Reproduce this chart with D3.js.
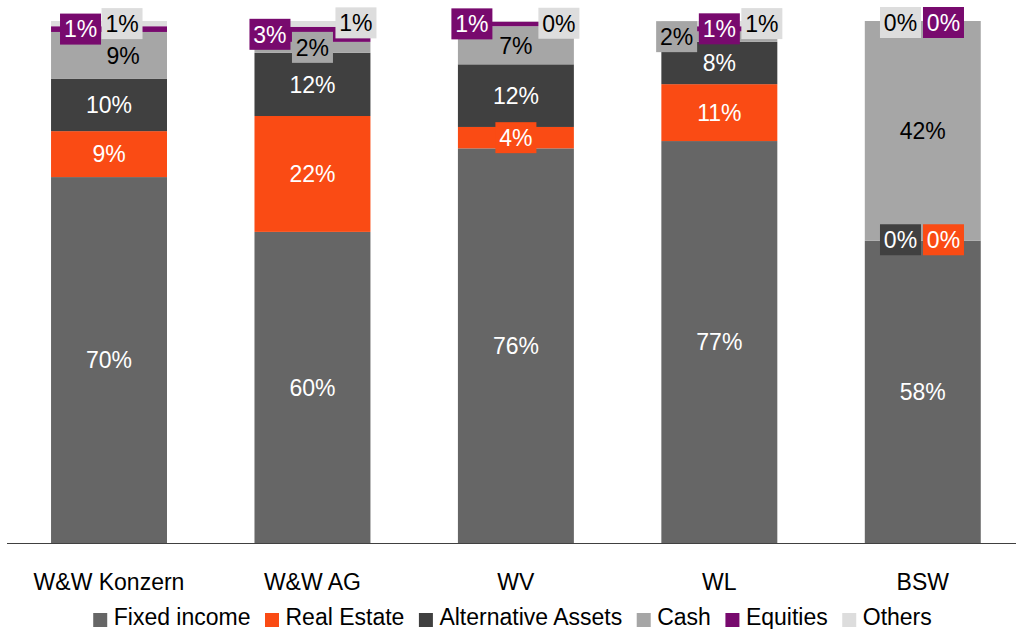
<!DOCTYPE html>
<meta charset="utf-8">
<html>
<script src="https://d3js.org/d3.v7.min.js"></script>
<body style="margin:0; background:#fff;">
<style>
    text {
        font-family: "Liberation Sans", Arial, sans-serif;
    }
</style>
<div id="mydataviz"></div>

<script>

    //data (share of portfolio in %)
    var categories = ["W&W Konzern", "W&W AG", "WV", "WL", "BSW"];
    var seriesNames = ["Fixed income", "Real Estate", "Alternative Assets", "Cash", "Equities", "Others"];
    var fixedIncome = [70.1, 59.6, 75.6, 77.0, 57.9];
    var realEstate = [8.8, 22.2, 4.1, 10.9, 0];
    var alternativeAssets = [10.0, 12.1, 12.0, 8.1, 0];
    var cash = [9.0, 2.1, 7.3, 2.0, 42.1];
    var equities = [1.1, 2.9, 0.9, 1.0, 0];
    var others = [1.0, 1.1, 0.1, 1.0, 0];

    var colors = ["#666666", "#fa4b14", "#404040", "#a6a6a6", "#780a6e", "#dddddd"];
    var textColors = ["#fff", "#fff", "#fff", "#000", "#fff", "#000"];

    //label moves for crowded small segments (dx, dy in px, boxed or not)
    var labelMoves = [
        {cat: "W&W Konzern", s: "Equities", dx: -28.5, dy: 0, box: true},
        {cat: "W&W Konzern", s: "Others", dx: 13, dy: 0, box: true},
        {cat: "W&W Konzern", s: "Cash", dx: 14, dy: 0, box: false},
        {cat: "W&W AG", s: "Equities", dx: -42.5, dy: 0, box: true},
        {cat: "W&W AG", s: "Others", dx: 43.5, dy: -1, box: true},
        {cat: "W&W AG", s: "Cash", dx: 0, dy: 0, box: true},
        {cat: "WV", s: "Equities", dx: -44, dy: 0, box: true},
        {cat: "WV", s: "Others", dx: 43, dy: 2, box: true},
        {cat: "WV", s: "Real Estate", dx: 0, dy: 0, box: true},
        {cat: "WL", s: "Cash", dx: -42.7, dy: 0, box: true},
        {cat: "WL", s: "Equities", dx: 0, dy: 0, box: true},
        {cat: "WL", s: "Others", dx: 42.5, dy: 0, box: true},
        {cat: "BSW", s: "Others", dx: -22.3, dy: 1.5, box: true},
        {cat: "BSW", s: "Equities", dx: 20.7, dy: 1.5, box: true},
        {cat: "BSW", s: "Alternative Assets", dx: -22.3, dy: -1, box: true},
        {cat: "BSW", s: "Real Estate", dx: 20.7, dy: -1, box: true}
    ];

    //build table for d3.stack
    var seriesValues = [fixedIncome, realEstate, alternativeAssets, cash, equities, others];
    var table = categories.map(function(c, i) {
        var row = {cat: c};
        seriesNames.forEach(function(s, j) { row[s] = seriesValues[j][i]; });
        return row;
    });

    var width = 1016, height = 629;
    var svg = d3.select("#mydataviz").append("svg")
        .attr("width", width)
        .attr("height", height);

    //scales
    var x = d3.scaleBand()
        .domain(categories)
        .range([7.3, 1024.5])
        .paddingInner(0.43)
        .paddingOuter(0.215);
    var y = d3.scaleLinear().domain([0, 100]).range([543, 21]);
    var color = d3.scaleOrdinal().domain(seriesNames).range(colors);
    var tColor = d3.scaleOrdinal().domain(seriesNames).range(textColors);

    var stacked = d3.stack().keys(seriesNames)(table);

    //bars
    svg.append("g").selectAll("g")
        .data(stacked)
        .enter().append("g")
        .attr("fill", function(d) { return color(d.key); })
        .selectAll("rect")
        .data(function(d) { return d; })
        .enter().append("rect")
        .attr("x", function(d) { return x(d.data.cat); })
        .attr("width", x.bandwidth())
        .attr("y", function(d) { return y(d[1]); })
        .attr("height", function(d) { return y(d[0]) - y(d[1]); });

    //baseline
    svg.append("line")
        .attr("x1", 7).attr("x2", 1016)
        .attr("y1", y(0) + 0.5).attr("y2", y(0) + 0.5)
        .attr("stroke", "#404040")
        .attr("stroke-width", 1);

    //category labels
    svg.append("g").selectAll("text")
        .data(categories)
        .enter().append("text")
        .attr("x", function(d) { return x(d) + x.bandwidth() / 2; })
        .attr("y", 590)
        .attr("text-anchor", "middle")
        .style("font-size", "23px")
        .attr("fill", "#000")
        .text(function(d) { return d; });

    //data labels
    var labels = [];
    stacked.forEach(function(layer) {
        layer.forEach(function(d) {
            var mv = labelMoves.find(function(m) { return m.cat == d.data.cat && m.s == layer.key; });
            labels.push({
                s: layer.key,
                value: d.data[layer.key],
                cx: x(d.data.cat) + x.bandwidth() / 2 + (mv ? mv.dx : 0),
                cy: (y(d[0]) + y(d[1])) / 2 + (mv ? mv.dy : 0),
                box: mv ? mv.box : false
            });
        });
    });
    labels.sort(function(a, b) { return (a.box ? 1 : 0) - (b.box ? 1 : 0); });

    var lab = svg.append("g").selectAll("g")
        .data(labels)
        .enter().append("g");

    lab.filter(function(d) { return d.box; })
        .append("rect")
        .attr("x", function(d) { return d.cx - 20.5; })
        .attr("y", function(d) { return d.cy - 15.5; })
        .attr("width", 41)
        .attr("height", 31)
        .attr("fill", function(d) { return color(d.s); });

    lab.append("text")
        .attr("x", function(d) { return d.cx; })
        .attr("y", function(d) { return d.cy; })
        .attr("dy", "0.36em")
        .attr("text-anchor", "middle")
        .style("font-size", "23px")
        .attr("fill", function(d) { return tColor(d.s); })
        .text(function(d) { return Math.round(d.value) + "%"; });

    //legend
    var legend = svg.append("g");
    var lx = 0;
    seriesNames.forEach(function(s) {
        var item = legend.append("g").attr("transform", "translate(" + lx + ",0)");
        item.append("rect")
            .attr("x", 0).attr("y", 613)
            .attr("width", 14).attr("height", 14)
            .attr("fill", color(s));
        var t = item.append("text")
            .attr("x", 20.5).attr("y", 625)
            .style("font-size", "23px")
            .attr("fill", "#000")
            .text(s);
        lx += 20.5 + t.node().getComputedTextLength() + 14.5;
    });
    var legendWidth = lx - 14.5;
    legend.attr("transform", "translate(" + (512.5 - legendWidth / 2) + ",0)");

</script>

</body>
</html>
